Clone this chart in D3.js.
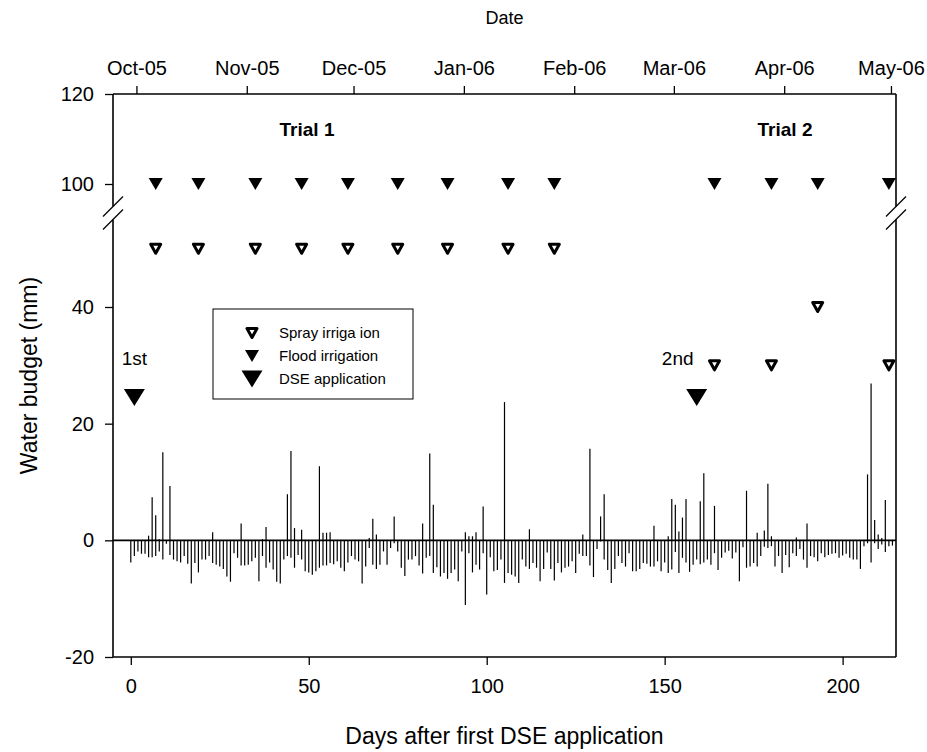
<!DOCTYPE html>
<html><head><meta charset="utf-8">
<script src="https://cdn.jsdelivr.net/npm/d3@7"></script>
<style>
body{margin:0;background:#fff}
svg{display:block}
text{font-family:"Liberation Sans",Arial,sans-serif;fill:#000}
</style>
</head><body>
<svg id="c" width="927" height="752"></svg>
<script>
// ---------- data ----------
const dayTicks = [0, 50, 100, 150, 200];
const lowerTicks = [-20, 0, 20, 40];
const upperTicks = [100, 120];
const dateTickValues = ["2005-10-01","2005-11-01","2005-12-01","2006-01-01","2006-02-01","2006-03-01","2006-04-01","2006-05-01"];
const dateTickLabels = ["Oct-05","Nov-05","Dec-05","Jan-06","Feb-06","Mar-06","Apr-06","May-06"];
const dayOrigin = "2005-09-29T10:00:00";
const xDomain = [-5, 215];
const lowerDomain = [-20, 55];
const upperDomain = [95, 120];

// daily evapotranspiration (negative), day 0 .. 214
const etValues = [
 -3.8,-2.7,-1.9,-2.3,-2.3,-2.9,-2.9,-2.7,-1.9,-3.3,-0.6,-2.5,-3.3,-3.6,-3.8,-2.7,-4.0,-7.4,-3.9,-5.5,
 -3.3,-3.3,-2.7,-3.9,-4.2,-4.5,-4.9,-6.2,-7.1,-2.2,-3.0,-4.3,-4.3,-4.2,-3.6,-3.0,-7.0,-2.7,-4.7,-3.8,
 -5.0,-7.1,-7.4,-3.3,-2.7,-3.0,-4.7,-2.5,-3.3,-5.3,
 -5.5,-5.9,-5.3,-4.7,-4.3,-4.3,-3.9,-4.1,-3.6,-4.7,-5.3,-3.8,-2.7,-3.3,-3.6,-7.4,-4.5,-1.3,-4.2,-4.9,
 -4.2,-1.9,-4.2,-1.3,-0.5,-1.9,-4.7,-6.1,-3.3,-3.3,-2.7,-4.3,-5.7,-3.0,-2.7,-5.6,-4.6,-6.2,-5.6,-6.6,
 -5.6,-5.0,-7.0,-1.9,-11.1,-2.2,-5.5,-4.2,-5.0,-2.2,-9.3,
 -2.9,
 -5.3,-5.1,-3.3,-7.3,-5.6,-5.9,-6.2,-7.3,-3.3,-4.5,-4.9,-3.9,-4.7,-7.0,-4.9,-2.1,-4.9,-6.9,-3.9,-5.5,
 -4.7,-4.5,-3.6,-5.6,-2.3,-2.7,-2.7,-4.3,-6.3,-1.5,-0.2,-3.3,-5.1,-7.3,-4.9,-2.7,-3.9,-4.5,-2.2,-5.3,
 -5.3,-4.9,-3.9,-4.0,-4.5,-4.5,-3.6,-5.3,-3.8,-5.6,-5.0,-2.0,-5.6,
 -3.0,-3.8,-5.4,-4.2,-3.3,-4.1,-3.8,-3.3,-4.2,-2.2,-5.1,-3.0,-2.1,-1.8,-3.1,-2.1,-7.0,-1.2,-4.7,-4.5,
 -3.9,-4.5,-2.7,-1.1,-1.3,-1.0,-4.5,-2.7,-5.6,-2.5,-4.6,-2.2,-2.7,-1.5,-3.3,-4.7,-2.7,-2.9,-3.6,-2.2,
 -2.9,-2.5,-2.3,-2.2,-3.0,-2.6,-2.3,-3.0,-3.3,-3.3,-4.9,-1.0,-0.5,-3.8,-0.5,-1.5,-0.7,-2.0,-1.0,-0.9
];
// rainfall / water input (positive)
const rainDays = [5,6,7,8,9,11,23,31,37,38,44,45,46,48,53,54,55,56,67,68,69,74,82,84,85,94,95,96,97,99,
 105,112,127,129,132,133,147,151,152,153,154,155,156,160,161,164,173,176,178,179,180,187,190,207,208,209,210,211,212];
const rainValues = [0.8,7.4,4.3,0.2,15.1,9.3,1.4,2.9,0.2,2.3,7.9,15.3,2.1,1.8,12.7,1.3,1.3,1.4,0.4,3.7,1.0,4.1,2.9,14.9,6.1,1.4,0.7,0.7,1.4,5.8,
 23.7,1.9,1.0,15.7,4.1,7.9,2.5,0.7,7.1,6.1,1.5,3.9,7.1,6.7,11.5,5.9,8.5,1.3,1.7,9.7,0.7,0.5,2.9,11.3,26.9,3.5,1.0,0.4,6.9];

const trial1Days = [7,19,35,48,61,75,89,106,119];
const trial2Days = [164,180,193,213];
const floodValue = 100;
const sprayTrial1 = [50,50,50,50,50,50,50,50,50];
const sprayTrial2 = [30,30,40,30];
const dseDays = [1,159];
const dseValue = 24.5;
const dseLabels = ["1st","2nd"];
const legendLabels = ["Spray irriga ion","Flood irrigation","DSE application"];

// ---------- layout ----------
const L=113, R=896, T=94, B=657;
const breakLow=219.5, breakHigh=206.5;
const svg = d3.select("#c");

const x = d3.scaleLinear().domain(xDomain).range([L,R]);
const yLow = d3.scaleLinear().domain(lowerDomain).range([B, breakLow]);
const yUp = d3.scaleLinear().domain(upperDomain).range([breakHigh, T]);
const y = v => v >= 75 ? yUp(v) : yLow(v);

const origin = new Date(dayOrigin);
const dayToDate = d => new Date(origin.getTime() + d*864e5);
const xt = d3.scaleTime().domain(xDomain.map(dayToDate)).range([L,R]);

function tri(cx, cy, w, h){
  return `M${cx-w/2},${cy-h/2}L${cx+w/2},${cy-h/2}L${cx},${cy+h/2}Z`;
}

// bars
const bars = svg.append("g").attr("stroke","#000").attr("stroke-width",1.2);
bars.selectAll("line.et").data(etValues).join("line")
  .attr("x1",(v,i)=>x(i)).attr("x2",(v,i)=>x(i))
  .attr("y1",y(0)).attr("y2",v=>y(v));
bars.selectAll("line.rain").data(rainDays).join("line")
  .attr("x1",d=>x(d)).attr("x2",d=>x(d))
  .attr("y1",y(0)).attr("y2",(d,i)=>y(rainValues[i]));
// zero line
svg.append("line").attr("x1",L).attr("x2",R).attr("y1",y(0)).attr("y2",y(0))
  .attr("stroke","#000").attr("stroke-width",1.6);

// axes
const fs = 20;
const fmt = d => String(d);
const gl = svg.append("g").attr("transform",`translate(${L},0)`)
  .call(d3.axisLeft(yLow).tickValues(lowerTicks).tickFormat(fmt).tickSize(8).tickPadding(11));
const gu = svg.append("g").attr("transform",`translate(${L},0)`)
  .call(d3.axisLeft(yUp).tickValues(upperTicks).tickFormat(fmt).tickSize(8).tickPadding(11));
const gb = svg.append("g").attr("transform",`translate(0,${B})`)
  .call(d3.axisBottom(x).tickValues(dayTicks).tickFormat(fmt).tickSize(8).tickPadding(14));
const gt = svg.append("g").attr("transform",`translate(0,${T})`)
  .call(d3.axisTop(xt).tickValues(dateTickValues.map(s=>new Date(s+"T00:00:00")))
        .tickFormat((d,i)=>dateTickLabels[i]).tickSize(8).tickPadding(11));
[gl,gu,gb,gt].forEach(g=>{
  g.select(".domain").remove();
  g.selectAll("line").attr("stroke","#000").attr("stroke-width",1.3);
  g.selectAll("text").attr("font-size",fs).attr("font-family","Liberation Sans, Arial, sans-serif").attr("fill","#000");
});

// frame
const frame = svg.append("g").attr("stroke","#000").attr("stroke-width",1.6).attr("fill","none");
frame.append("line").attr("x1",L).attr("x2",R).attr("y1",T).attr("y2",T);
frame.append("line").attr("x1",L).attr("x2",R).attr("y1",B).attr("y2",B);
[L,R].forEach(xx=>{
  frame.append("line").attr("x1",xx).attr("x2",xx).attr("y1",T).attr("y2",breakHigh);
  frame.append("line").attr("x1",xx).attr("x2",xx).attr("y1",breakLow).attr("y2",B);
  [breakHigh,breakLow].forEach(yy=>{
    frame.append("line").attr("x1",xx-10).attr("y1",yy+10).attr("x2",xx+10).attr("y2",yy-10).attr("stroke-width",1.2);
  });
});

// markers
const mk = svg.append("g");
const floodDays = trial1Days.concat(trial2Days);
mk.selectAll("path.flood").data(floodDays).join("path")
  .attr("d",d=>tri(x(d),y(floodValue),14,12)).attr("fill","#000");
const sprayVals = sprayTrial1.concat(sprayTrial2);
mk.selectAll("path.spray").data(floodDays).join("path")
  .attr("d",(d,i)=>tri(x(d),y(sprayVals[i]),10,9))
  .attr("fill","#fff").attr("stroke","#000").attr("stroke-width",3).attr("stroke-linejoin","round");
mk.selectAll("path.dse").data(dseDays).join("path")
  .attr("d",d=>tri(x(d),y(dseValue),21,17)).attr("fill","#000");

// texts
svg.selectAll("text.dse").data(dseDays).join("text")
  .attr("x",(d,i)=>x(d)+(i===0?0:-19)).attr("y",365).attr("text-anchor","middle")
  .attr("font-size",19).text((d,i)=>dseLabels[i]);
svg.append("text").attr("x",307).attr("y",136).attr("text-anchor","middle")
  .attr("font-size",19).attr("font-weight","bold").text("Trial 1");
svg.append("text").attr("x",785).attr("y",136).attr("text-anchor","middle")
  .attr("font-size",19).attr("font-weight","bold").text("Trial 2");

// legend
const lg = svg.append("g");
lg.append("rect").attr("x",213).attr("y",309).attr("width",200).attr("height",90)
  .attr("fill","#fff").attr("stroke","#000").attr("stroke-width",1);
const rows=[333,356,379];
lg.append("path").attr("d",tri(252,rows[0],10,9)).attr("fill","#fff").attr("stroke","#000").attr("stroke-width",3).attr("stroke-linejoin","round");
lg.append("path").attr("d",tri(252,rows[1],14,12)).attr("fill","#000");
lg.append("path").attr("d",tri(252,rows[2],21,17)).attr("fill","#000");
lg.selectAll("text").data(legendLabels).join("text")
  .attr("x",279).attr("y",(d,i)=>rows[i]).attr("dy","0.35em").attr("font-size",15).text(d=>d);

// axis titles
svg.append("text").attr("x",(L+R)/2).attr("y",24).attr("text-anchor","middle").attr("font-size",18).text("Date");
svg.append("text").attr("x",(L+R)/2).attr("y",744).attr("text-anchor","middle").attr("font-size",23).text("Days after first DSE application");
svg.append("text").attr("transform",`translate(37,${(T+B)/2}) rotate(-90)`).attr("text-anchor","middle").attr("font-size",23).text("Water budget (mm)");
</script>
</body></html>
